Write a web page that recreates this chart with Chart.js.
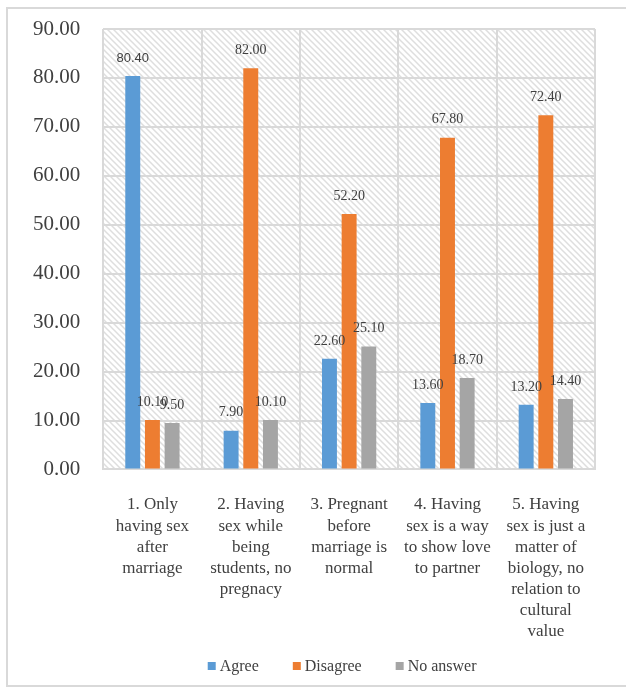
<!DOCTYPE html>
<html>
<head>
<meta charset="utf-8">
<script src="https://cdn.jsdelivr.net/npm/chart.js@4/dist/chart.umd.min.js"></script>
<style>
  html, body { margin: 0; padding: 0; background: #fff; }
  #wrap { width: 626px; height: 687px; }
</style>
</head>
<body>
<div id="wrap"><canvas id="myChart" width="626" height="687"></canvas></div>
<script>
const labels = [
  ['1. Only', 'having sex', 'after', 'marriage'],
  ['2. Having', 'sex while', 'being', 'students, no', 'pregnacy'],
  ['3. Pregnant', 'before', 'marriage is', 'normal'],
  ['4. Having', 'sex is a way', 'to show love', 'to partner'],
  ['5. Having', 'sex is just a', 'matter of', 'biology, no', 'relation to', 'cultural', 'value']
];
const agreeData = [80.40, 7.90, 22.60, 13.60, 13.20];
const disagreeData = [10.10, 82.00, 52.20, 67.80, 72.40];
const noAnswerData = [9.50, 10.10, 25.10, 18.70, 14.40];

// diagonal hatch behind the plot
function makeHatch() {
  const c = document.createElement('canvas');
  c.width = 6; c.height = 6;
  const g = c.getContext('2d');
  g.fillStyle = '#ffffff';
  g.fillRect(0, 0, 6, 6);
  g.strokeStyle = '#dedede';
  g.lineWidth = 1.5;
  g.beginPath();
  g.moveTo(0, 0); g.lineTo(6, 6);
  g.moveTo(-3, 3); g.lineTo(3, 9);
  g.moveTo(3, -3); g.lineTo(9, 3);
  g.stroke();
  return g.createPattern(c, 'repeat');
}

const backdrop = {
  id: 'backdrop',
  beforeDraw(chart) {
    const ctx = chart.ctx;
    const a = chart.chartArea;
    ctx.save();
    ctx.strokeStyle = '#d9d9d9';
    ctx.lineWidth = 2;
    ctx.strokeRect(7, 8, 660, 678);
    ctx.fillStyle = makeHatch();
    ctx.fillRect(a.left, a.top, a.right - a.left, a.bottom - a.top);
    ctx.restore();
  }
};

const valueLabels = {
  id: 'valueLabels',
  afterDatasetsDraw(chart) {
    const ctx = chart.ctx;
    ctx.save();
    ctx.fillStyle = '#404040';
    ctx.textAlign = 'center';
    ctx.textBaseline = 'bottom';
    chart.data.datasets.forEach((ds, i) => {
      chart.getDatasetMeta(i).data.forEach((bar, j) => {
        ctx.font = (i === 0 && j === 0) ? '13px "Liberation Sans"' : '14px "Liberation Serif"';
        ctx.fillText(ds.data[j].toFixed(2), bar.x, bar.y - 11);
      });
    });
    ctx.restore();
  }
};

// legend like the office one: small square, tight text, wide gaps
const bottomLegend = {
  id: 'bottomLegend',
  afterDraw(chart) {
    const ctx = chart.ctx;
    const a = chart.chartArea;
    const y = 667;
    ctx.save();
    ctx.font = '16px "Liberation Serif"';
    ctx.textBaseline = 'middle';
    const items = chart.data.datasets.map(ds => ({ text: ds.label, color: ds.backgroundColor, w: 12 + ctx.measureText(ds.label).width }));
    const gap = 34;
    const total = items.reduce((s, it) => s + it.w, 0) + gap * (items.length - 1);
    let x = (a.left + a.right) / 2 - 7 - total / 2;
    items.forEach(it => {
      ctx.fillStyle = it.color;
      ctx.fillRect(x, y - 5, 8, 8);
      ctx.fillStyle = '#404040';
      ctx.fillText(it.text, x + 12, y);
      x += it.w + gap;
    });
    ctx.restore();
  }
};

const data = {
  labels: labels,
  datasets: [
    { label: 'Agree', data: agreeData, backgroundColor: '#5b9bd5' },
    { label: 'Disagree', data: disagreeData, backgroundColor: '#ed7d31' },
    { label: 'No answer', data: noAnswerData, backgroundColor: '#a5a5a5' }
  ]
};

const config = {
  type: 'bar',
  data: data,
  options: {
    responsive: false,
    animation: false,
    devicePixelRatio: 1,
    datasets: {
      bar: { categoryPercentage: 0.6, barPercentage: 0.76 }
    },
    layout: { padding: { left: 10, right: 31, top: 1, bottom: 20 } },
    plugins: {
      legend: { display: false },
      tooltip: { enabled: false }
    },
    scales: {
      x: {
        grid: { color: '#d9d9d9', lineWidth: 2, offset: true, drawTicks: false },
        border: { color: '#d9d9d9', width: 2 },
        ticks: {
          maxRotation: 0,
          padding: 25,
          color: '#404040',
          font: { family: '"Liberation Serif"', size: 17, lineHeight: 1.24 }
        }
      },
      y: {
        min: 0,
        max: 90,
        afterFit: s => { s.paddingTop = 29; },
        grid: { color: '#d9d9d9', lineWidth: 2, drawTicks: false },
        border: { display: false },
        ticks: {
          stepSize: 10,
          padding: 23,
          color: '#404040',
          font: { family: '"Liberation Serif"', size: 21 },
          callback: v => v.toFixed(2)
        }
      }
    }
  },
  plugins: [backdrop, valueLabels, bottomLegend]
};

const myChart = new Chart(document.getElementById('myChart'), config);
</script>
</body>
</html>
